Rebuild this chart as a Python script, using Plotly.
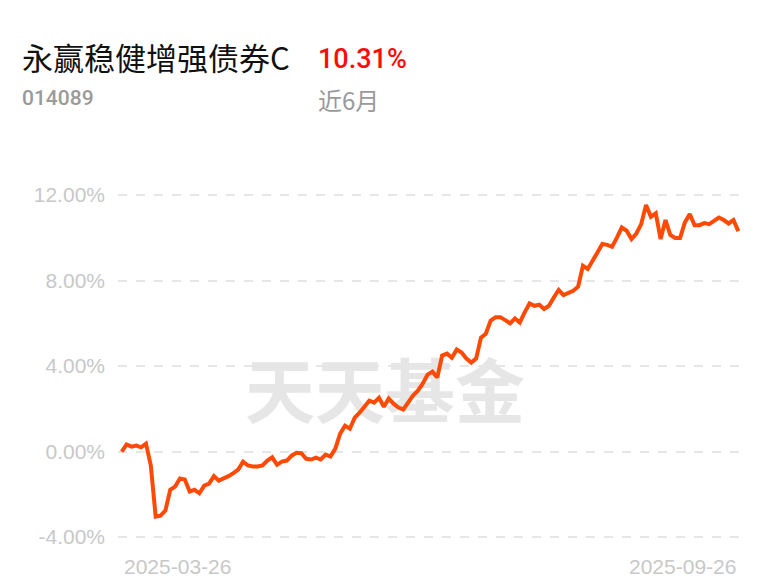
import plotly.graph_objects as go

# Data: cumulative return (%) over the last 6 months
returns = [
    0.00, 0.33, 0.23, 0.28, 0.20, 0.37, -0.65, -3.04, -3.00, -2.76,
    -1.79, -1.64, -1.26, -1.31, -1.87, -1.79, -1.95, -1.59, -1.50, -1.15,
    -1.36, -1.26, -1.15, -1.01, -0.84, -0.47, -0.65, -0.70, -0.70, -0.65,
    -0.42, -0.27, -0.62, -0.47, -0.42, -0.19, -0.06, -0.08, -0.34, -0.37,
    -0.28, -0.37, -0.14, -0.23, 0.14, 0.84, 1.21, 1.07, 1.59, 1.82,
    2.10, 2.38, 2.29, 2.52, 2.10, 2.48, 2.24, 2.06, 1.97, 2.29,
    2.62, 2.85, 3.18, 3.60, 3.74, 3.46, 4.49, 4.58, 4.39, 4.77,
    4.63, 4.35, 4.16, 4.35, 5.33, 5.51, 6.13, 6.28, 6.28, 6.15,
    6.00, 6.23, 6.04, 6.51, 6.93, 6.82, 6.87, 6.67, 6.82, 7.21,
    7.56, 7.32, 7.44, 7.52, 7.71, 8.69, 8.54, 8.96, 9.31, 9.71,
    9.67, 9.58, 10.01, 10.48, 10.33, 9.94, 10.20, 10.64, 11.54, 10.98,
    11.15, 9.94, 10.83, 10.13, 9.99, 9.99, 10.72, 11.11, 10.59, 10.59,
    10.69, 10.64, 10.79, 10.95, 10.83, 10.67, 10.83, 10.31,
]
date_labels = ["2025-03-26", "2025-09-26"]
y_ticks = [-4, 0, 4, 8, 12]
fund_name = "永赢稳健增强债券C"
fund_code = "014089"
period_return = "10.31%"
period_label = "近6月"
watermark = "天天基金"

x_idx = list(range(len(returns)))
n = len(returns)

# plot-area geometry (figure pixels); page adds an 8px body offset
L, R, T, B = 110, 732, 177, 537
OFF = 8


def px(xs):
    return (xs - OFF - L) / (R - L)


def py(ys):
    return (B - (ys - OFF)) / (B - T)


fig = go.Figure()

# watermark (drawn under the line)
fig.add_trace(go.Scatter(
    x=[(n - 1) * 0.427], y=[2.4], mode="text", text=[watermark],
    textfont=dict(family="Noto Sans CJK SC", size=70, color="#e6e6e6", weight="bold"),
    hoverinfo="skip", showlegend=False,
))

fig.add_trace(go.Scatter(
    x=x_idx, y=returns, mode="lines",
    line=dict(color="#ff4a05", width=4, shape="linear"),
    showlegend=False, hoverinfo="skip",
))

fig.update_layout(
    width=768, height=587,
    margin=dict(l=L, r=768 - R, t=T, b=587 - B),
    paper_bgcolor="white", plot_bgcolor="white",
    xaxis=dict(range=[-0.76, n - 1 + 0.35], showgrid=False, zeroline=False,
               showticklabels=False, showline=False),
    yaxis=dict(range=[-4.37, 12.47], tickvals=y_ticks,
               ticktext=[f"{v:.2f}%" for v in y_ticks],
               showgrid=True, gridcolor="#e6e6e6", griddash="dash", gridwidth=1.5,
               zeroline=False, showline=False, ticks="",
               tickfont=dict(family="Liberation Sans", size=21, color="#c8c8c8"),
               ticklabelstandoff=12),
    annotations=[
        dict(text=fund_name, xref="paper", yref="paper", x=px(20), y=py(57),
             xanchor="left", yanchor="middle", showarrow=False,
             font=dict(family="Noto Sans CJK SC", size=31, color="#111111")),
        dict(text=period_return, xref="paper", yref="paper", x=px(316), y=py(59),
             xanchor="left", yanchor="middle", showarrow=False,
             font=dict(family="Roboto", size=27, color="#ff0a0a", weight=500)),
        dict(text=fund_code, xref="paper", yref="paper", x=px(20), y=py(98),
             xanchor="left", yanchor="middle", showarrow=False,
             font=dict(family="Roboto", size=21, color="#9a9a9a", weight=500)),
        dict(text=period_label, xref="paper", yref="paper", x=px(316), y=py(100),
             xanchor="left", yanchor="middle", showarrow=False,
             font=dict(family="Noto Sans CJK SC", size=24, color="#9a9a9a")),
        dict(text=date_labels[0], xref="x", yref="paper", x=0, y=py(566),
             xanchor="left", yanchor="middle", showarrow=False,
             font=dict(family="Liberation Sans", size=21, color="#c8c8c8")),
        dict(text=date_labels[-1], xref="x", yref="paper", x=n - 1, y=py(566),
             xanchor="right", yanchor="middle", showarrow=False,
             font=dict(family="Liberation Sans", size=21, color="#c8c8c8")),
    ],
)

fig.write_html("out.html")
